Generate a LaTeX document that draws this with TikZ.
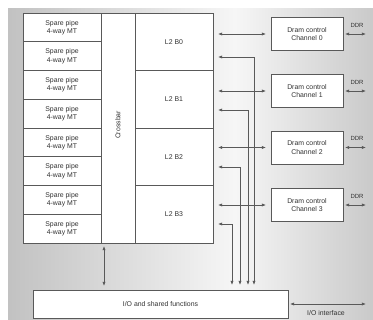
\documentclass[tikz,border=0pt]{standalone}
\usepackage{fontspec}
\setmainfont{Liberation Sans}
\usetikzlibrary{arrows.meta}
\begin{document}
\begin{tikzpicture}[x=1pt,y=-1pt,
  box/.style={draw=black!65, line width=0.6pt, fill=white, inner sep=0pt, outer sep=0pt,
    anchor=north west, font=\fontsize{6.9}{8.2}\selectfont, align=center, text=black!80},
  conn/.style={draw=black!65, line width=0.6pt,
    {Latex[length=4.2pt,width=3.2pt]}-{Latex[length=4.2pt,width=3.2pt]},
    shorten <=5pt, shorten >=5pt},
  lbl/.style={font=\fontsize{6.9}{8.2}\selectfont, inner sep=0pt, text=black!80}]
\useasboundingbox (0,0) rectangle (373,320);
% background
\shade[left color=gray!48, right color=gray!7] (8,9) rectangle (235,320);
\shade[left color=gray!7, right color=gray!42] (235,9) rectangle (373,320);
% spare pipes
\foreach \i in {0,...,7}
  \node[box, minimum width=78pt, minimum height=28.75pt] (sp\i) at (23,{13+\i*28.75}) {Spare pipe\\4-way MT};
% crossbar
\node[box, minimum width=34pt, minimum height=230pt] (xbar) at (101,13) {};
\node[lbl, rotate=90] (xbarlbl) at ([yshift=3pt]xbar.center) {Crossbar};
% L2 banks
\foreach \i in {0,...,3}
  \node[box, minimum width=78pt, minimum height=57.5pt] (l2b\i) at (135,{13+\i*57.5}) {L2 B\i};
% DRAM controllers
\node[box, minimum width=72pt, minimum height=33pt] (dr0) at (271,17.5) {Dram control\\Channel 0};
\node[box, minimum width=72pt, minimum height=33pt] (dr1) at (271,74.5) {Dram control\\Channel 1};
\node[box, minimum width=72pt, minimum height=33pt] (dr2) at (271,131) {Dram control\\Channel 2};
\node[box, minimum width=72pt, minimum height=33pt] (dr3) at (271,188.5) {Dram control\\Channel 3};
% I/O
\node[box, minimum width=255pt, minimum height=28pt] (io) at (33,290) {I/O and shared functions};
% L2 <-> DRAM
\foreach \i in {0,...,3}
  \draw[conn] (l2b\i.east |- dr\i.west) -- (dr\i.west);
% L2 <-> I/O
\coordinate (t0) at (254,57);
\coordinate (t1) at (248,110);
\coordinate (t2) at (240,167);
\coordinate (t3) at (232,224);
\foreach \i in {0,...,3}
  \draw[conn] (l2b\i.east |- t\i) -- (t\i) -- (t\i |- io.north);
% crossbar <-> I/O
\coordinate (xb) at (104,243);
\draw[conn, shorten <=3pt, shorten >=4pt] (xb) -- (xb |- io.north);
% DDR
\foreach \i in {0,...,3}{
  \coordinate (ddr\i) at (366,0);
  \draw[conn, shorten <=2pt, shorten >=0pt] (dr\i.east) -- (dr\i.east -| ddr\i);
  \node[lbl, font=\fontsize{6}{7}\selectfont] (ddrlbl\i) at ([xshift=-9pt,yshift=9pt]dr\i.east -| ddr\i) {DDR};
}
% I/O interface
\coordinate (ioend) at (366,304);
\draw[conn, shorten <=2pt, shorten >=0pt] (io.east) -- (io.east -| ioend);
\node[lbl] (iolbl) at (326,313) {I/O interface};
\end{tikzpicture}
\end{document}
